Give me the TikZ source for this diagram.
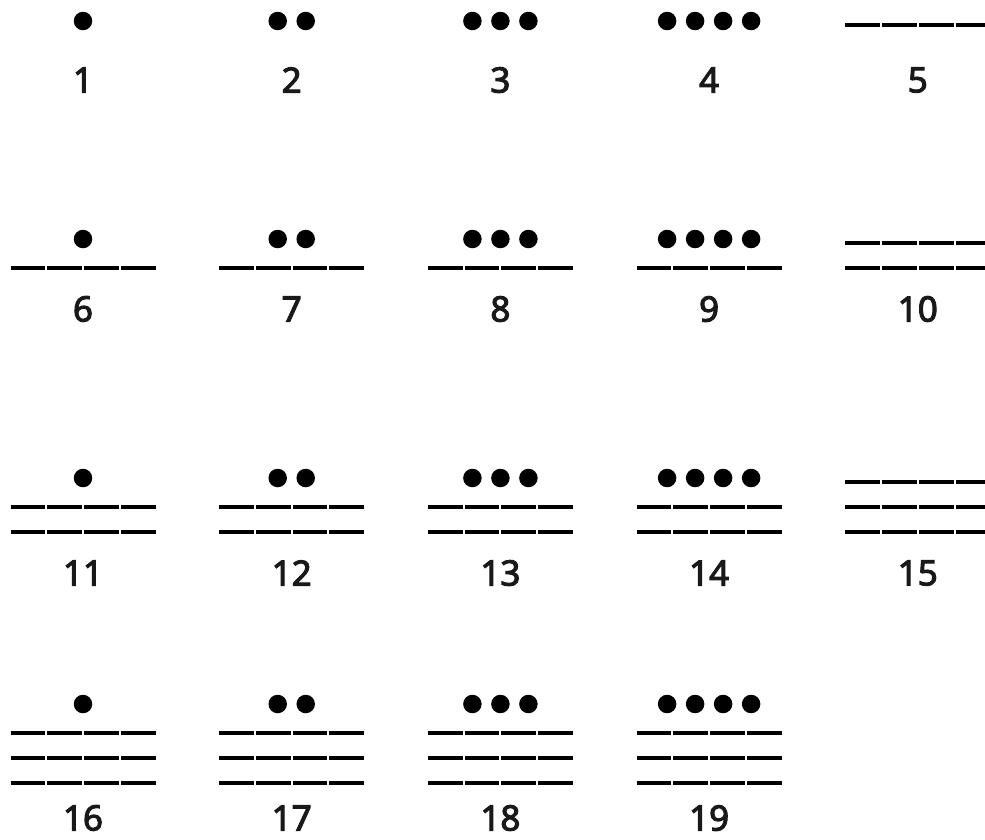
\documentclass[tikz,border=0pt]{standalone}
\usepackage{fontspec}
\setmainfont{Noto Sans}
\newfontfamily\numfont[FakeBold=3]{Noto Sans}
\usepackage{tikz}

\begin{document}
\begin{tikzpicture}[x=1pt, y=-1pt,
    numlabel/.style={font=\fontsize{35}{40}\numfont, inner sep=0pt, text=black!90},
    barseg/.style={line width=4pt, draw=black},
    dotmark/.style={fill=black}
  ]
    \useasboundingbox (0,0) rectangle (985,839);
    % One glyph per number: bars of five, dots of one
    \foreach \n in {1,...,19} {
      \pgfmathtruncatemacro{\col}{mod(\n-1,5)}
      \pgfmathtruncatemacro{\row}{div(\n-1,5)}
      \pgfmathtruncatemacro{\nbars}{div(\n,5)}
      \pgfmathtruncatemacro{\ndots}{mod(\n,5)}
      \pgfmathsetmacro{\cx}{83+208.7*\col}
      \pgfmathsetmacro{\base}{{25,268,532,783}[\row]}
      \pgfmathsetmacro{\numy}{{80,309,573,818}[\row]}
      % Bars
      \ifnum\nbars>0
        \foreach \k in {1,...,\nbars} {
          \pgfmathsetmacro{\by}{\base-(\k-1)*25}
          \foreach \s in {0,...,3} {
            \draw[barseg] ({\cx-73.5+36.75*\s+1},\by) -- ({\cx-73.5+36.75*\s+35.75},\by);
          }
        }
      \fi
      % Dots
      \ifnum\ndots>0
        \pgfmathsetmacro{\dy}{\base-\nbars*25-4}
        \foreach \i in {1,...,\ndots} {
          \fill[dotmark] ({\cx+(\i-(\ndots+1)/2)*28},\dy) circle[radius=9.25pt];
        }
      \fi
      % Value
      \node[numlabel] (num\n) at (\cx,\numy) {\n};
    }
  \end{tikzpicture}
\end{document}
